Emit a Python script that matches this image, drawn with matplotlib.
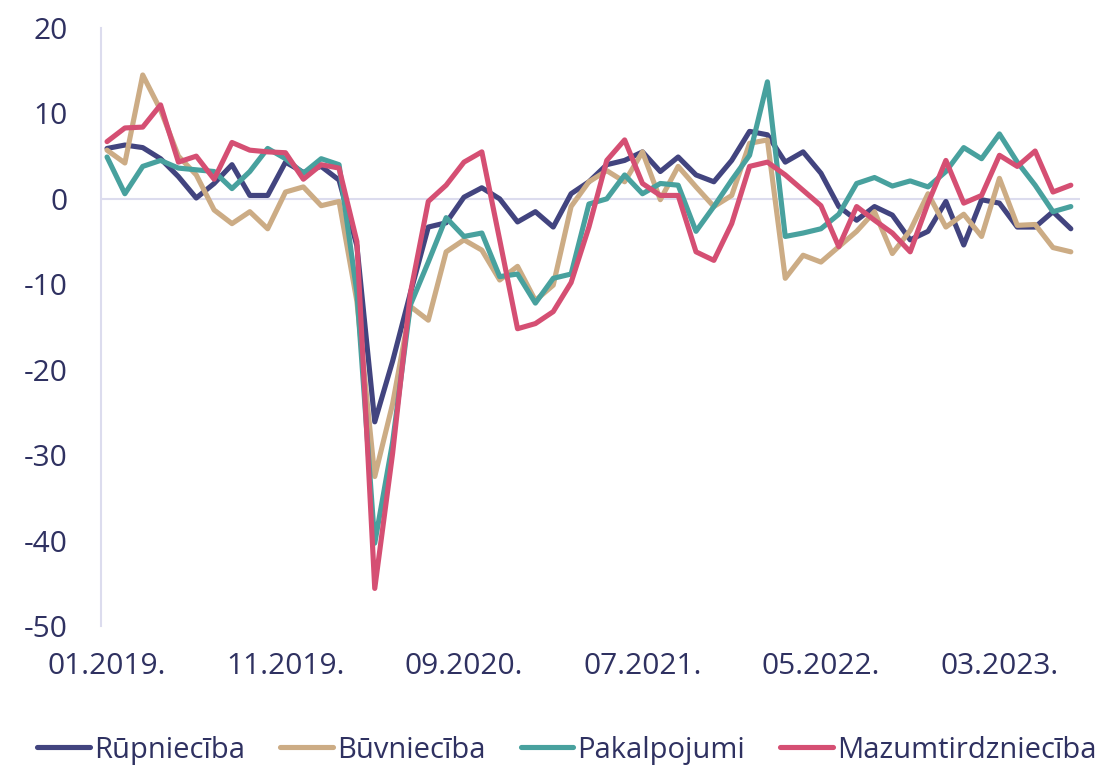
import matplotlib
matplotlib.use("Agg")
import matplotlib.pyplot as plt
import numpy as np

plt.rcParams['font.family'] = ['Open Sans', 'DejaVu Sans']
plt.rcParams['axes.unicode_minus'] = False

# monthly values, 01.2019 - 07.2023
rupnieciba = [5.9, 6.3, 6.0, 4.7, 2.6, 0.1, 1.8, 4.0, 0.4, 0.4,
              4.3, 3.1, 3.8, 2.2, -5.5, -26.1, -19.0, -11.0, -3.3, -2.8,
              0.2, 1.3, 0.0, -2.7, -1.5, -3.3, 0.6, 2.0, 4.0, 4.5,
              5.5, 3.2, 4.9, 2.8, 2.0, 4.5, 7.9, 7.5, 4.3, 5.5,
              3.0, -0.9, -2.5, -0.9, -1.9, -4.8, -3.8, -0.3, -5.4, -0.1,
              -0.5, -3.3, -3.3, -1.5, -3.5]
buvnieciba = [5.7, 4.2, 14.5, 10.4, 5.0, 2.8, -1.3, -2.9, -1.5, -3.5,
              0.8, 1.4, -0.8, -0.3, -12.0, -32.5, -24.0, -12.6, -14.2, -6.2,
              -4.8, -6.0, -9.5, -7.9, -11.9, -10.1, -0.9, 2.0, 3.3, 2.0,
              5.5, -0.1, 3.8, 1.4, -0.9, 0.4, 6.5, 6.9, -9.3, -6.6,
              -7.4, -5.6, -3.8, -1.5, -6.4, -3.7, 0.6, -3.3, -1.8, -4.4,
              2.4, -3.1, -3.0, -5.7, -6.2]
pakalpojumi = [4.9, 0.6, 3.8, 4.5, 3.6, 3.4, 3.2, 1.2, 3.2, 5.9,
               4.7, 3.0, 4.7, 4.0, -11.0, -40.3, -28.5, -12.4, -7.4, -2.2,
               -4.4, -4.0, -9.1, -8.8, -12.2, -9.3, -8.8, -0.6, 0.0, 2.8,
               0.6, 1.8, 1.6, -3.8, -0.9, 2.2, 5.1, 13.7, -4.4, -4.0,
               -3.5, -1.8, 1.8, 2.5, 1.5, 2.1, 1.4, 3.2, 6.0, 4.7,
               7.6, 4.3, 1.6, -1.5, -0.9]
mazumtirdznieciba = [6.7, 8.3, 8.4, 11.0, 4.3, 5.0, 2.3, 6.6, 5.7, 5.5,
                     5.4, 2.3, 4.0, 3.6, -5.0, -45.6, -29.8, -11.0, -0.3, 1.6,
                     4.3, 5.5, -4.8, -15.2, -14.6, -13.2, -9.8, -3.3, 4.5, 6.9,
                     1.8, 0.4, 0.4, -6.2, -7.2, -2.9, 3.8, 4.3, 2.8, 1.0,
                     -0.8, -5.6, -0.9, -2.5, -4.0, -6.2, -0.5, 4.5, -0.5, 0.4,
                     5.1, 3.8, 5.6, 0.8, 1.6]

series_names = ['Rūpniecība', 'Būvniecība', 'Pakalpojumi', 'Mazumtirdzniecība']
colors = ['#42447f', '#ccac85', '#48a19e', '#d54f73']
xtick_labels = ['01.2019.', '11.2019.', '09.2020.', '07.2021.', '05.2022.', '03.2023.']

text_color = '#2f3161'
axis_color = '#dcdcee'

fig = plt.figure(figsize=(11.01, 7.67), dpi=100)
ax = fig.add_axes([0.0917, 0.1838, 0.889, 0.7797])

x = np.arange(len(rupnieciba))
for vals, name, c in zip([rupnieciba, buvnieciba, pakalpojumi, mazumtirdznieciba],
                         series_names, colors):
    ax.plot(x, vals, color=c, lw=3.7, label=name,
            solid_joinstyle='round', solid_capstyle='round')

ax.axhline(0, color=axis_color, lw=1.5, zorder=0)

ax.set_xlim(-0.34, 54.5)
ax.set_ylim(-50, 20)
ax.set_yticks(np.arange(-50, 21, 10))
ax.set_xticks(np.arange(0, len(x), 10))
ax.set_xticklabels(xtick_labels)

for s in ['top', 'right', 'bottom']:
    ax.spines[s].set_visible(False)
ax.spines['left'].set_color(axis_color)
ax.spines['left'].set_linewidth(1.5)

ax.tick_params(axis='y', length=0, pad=24, labelsize=21.5, labelcolor=text_color)
ax.tick_params(axis='x', length=0, pad=19, labelsize=21.5, labelcolor=text_color)

fig.legend(loc='center', bbox_to_anchor=(0.515, 0.022), ncol=4, frameon=False,
           fontsize=21, labelcolor=text_color, handlelength=1.8,
           handletextpad=0.15, columnspacing=1.2, borderaxespad=0)

fig.savefig('out.png', dpi=100)
